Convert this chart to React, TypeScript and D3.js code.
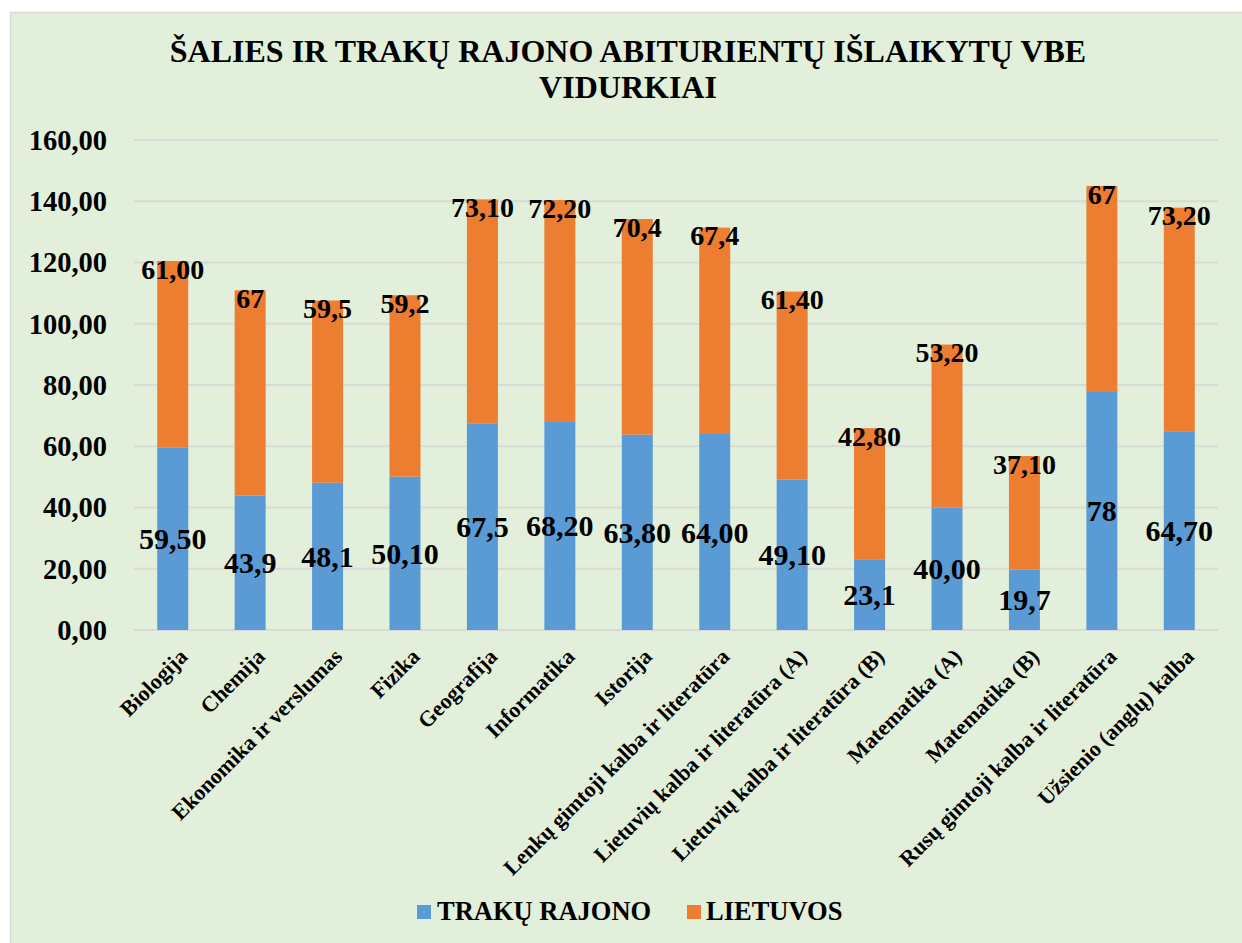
import * as React from 'react';
import * as d3 from 'd3';

const subjects: string[] = [
	'Biologija',
	'Chemija',
	'Ekonomika ir verslumas',
	'Fizika',
	'Geografija',
	'Informatika',
	'Istorija',
	'Lenkų gimtoji kalba ir literatūra',
	'Lietuvių kalba ir literatūra (A)',
	'Lietuvių kalba ir literatūra (B)',
	'Matematika (A)',
	'Matematika (B)',
	'Rusų gimtoji kalba ir literatūra',
	'Užsienio (anglų) kalba'
];

const trakai: number[] = [59.5, 43.9, 48.1, 50.1, 67.5, 68.2, 63.8, 64.0, 49.1, 23.1, 40.0, 19.7, 78, 64.7];
const lietuva: number[] = [61.0, 67, 59.5, 59.2, 73.1, 72.2, 70.4, 67.4, 61.4, 42.8, 53.2, 37.1, 67, 73.2];

const trakaiLabels: string[] = ['59,50', '43,9', '48,1', '50,10', '67,5', '68,20', '63,80', '64,00', '49,10', '23,1', '40,00', '19,7', '78', '64,70'];
const lietuvaLabels: string[] = ['61,00', '67', '59,5', '59,2', '73,10', '72,20', '70,4', '67,4', '61,40', '42,80', '53,20', '37,10', '67', '73,20'];

const yTicks: number[] = [0, 20, 40, 60, 80, 100, 120, 140, 160];

const seriesNames: string[] = ['TRAKŲ RAJONO', 'LIETUVOS'];

const W = 1242;
const H = 943;
const FONT = "'Liberation Serif', 'DejaVu Serif', serif";
const BLUE = '#5B9BD5';
const ORANGE = '#ED7D31';

export default function App() {
	const margin = { top: 140, right: 24, bottom: 313, left: 134 };

	const x = d3
		.scaleBand<string>()
		.domain(subjects)
		.range([margin.left, W - margin.right])
		.paddingInner(0.6)
		.paddingOuter(0.3);

	const y = d3
		.scaleLinear()
		.domain([0, 160])
		.range([H - margin.bottom, margin.top]);

	const rows = subjects.map((s, i) => ({ s, a: trakai[i], b: lietuva[i], i }));
	const stack = d3.stack<any>().keys(['a', 'b'])(rows);
	const fmt = (v: number) => d3.format('.2f')(v).replace('.', ',');

	return (
		<svg width={W} height={H} style={{ position: 'absolute', left: 0, top: 0, fontFamily: FONT, fontWeight: 'bold' }}>
			<rect x={10.5} y={12.5} width={W} height={H} fill="#E2EFDA" stroke="#D9D9D9" strokeWidth={1.5} />

			<text x={628} y={62} textAnchor="middle" fontSize={32}>
				ŠALIES IR TRAKŲ RAJONO ABITURIENTŲ IŠLAIKYTŲ VBE
			</text>
			<text x={628} y={98} textAnchor="middle" fontSize={32}>
				VIDURKIAI
			</text>

			{yTicks.map((t) => (
				<g key={t}>
					<line x1={margin.left} x2={W - margin.right} y1={y(t)} y2={y(t)} stroke="#D9D9D9" strokeWidth={2} />
					<text x={107} y={y(t)} dy="0.35em" textAnchor="end" fontSize={28.5}>
						{fmt(t)}
					</text>
				</g>
			))}

			{stack.map((layer, li) => (
				<g key={li} fill={li === 0 ? BLUE : ORANGE}>
					{layer.map((d: any, i: number) => (
						<rect key={i} x={x(subjects[i])} width={x.bandwidth()} y={y(d[1])} height={y(d[0]) - y(d[1])} />
					))}
				</g>
			))}

			{stack[0].map((d: any, i: number) => (
				<text key={'a' + i} x={(x(subjects[i]) as number) + x.bandwidth() / 2} y={y((d[0] + d[1]) / 2)} dy="0.35em" textAnchor="middle" fontSize={30}>
					{trakaiLabels[i]}
				</text>
			))}
			{stack[1].map((d: any, i: number) => (
				<text key={'b' + i} x={(x(subjects[i]) as number) + x.bandwidth() / 2} y={y(d[1]) + 8} dy="0.35em" textAnchor="middle" fontSize={28}>
					{lietuvaLabels[i]}
				</text>
			))}

			{subjects.map((s) => (
				<text
					key={s}
					transform={`translate(${(x(s) as number) + x.bandwidth() / 2 + 5},647) rotate(-45)`}
					dy="0.71em"
					textAnchor="end"
					fontSize={22}
				>
					{s}
				</text>
			))}

			<g>
				<rect x={417} y={905} width={14} height={14} fill={BLUE} />
				<text x={437} y={920} fontSize={26.5}>
					{seriesNames[0]}
				</text>
				<rect x={687} y={905} width={14} height={14} fill={ORANGE} />
				<text x={706} y={920} fontSize={26.5}>
					{seriesNames[1]}
				</text>
			</g>
		</svg>
	);
}
